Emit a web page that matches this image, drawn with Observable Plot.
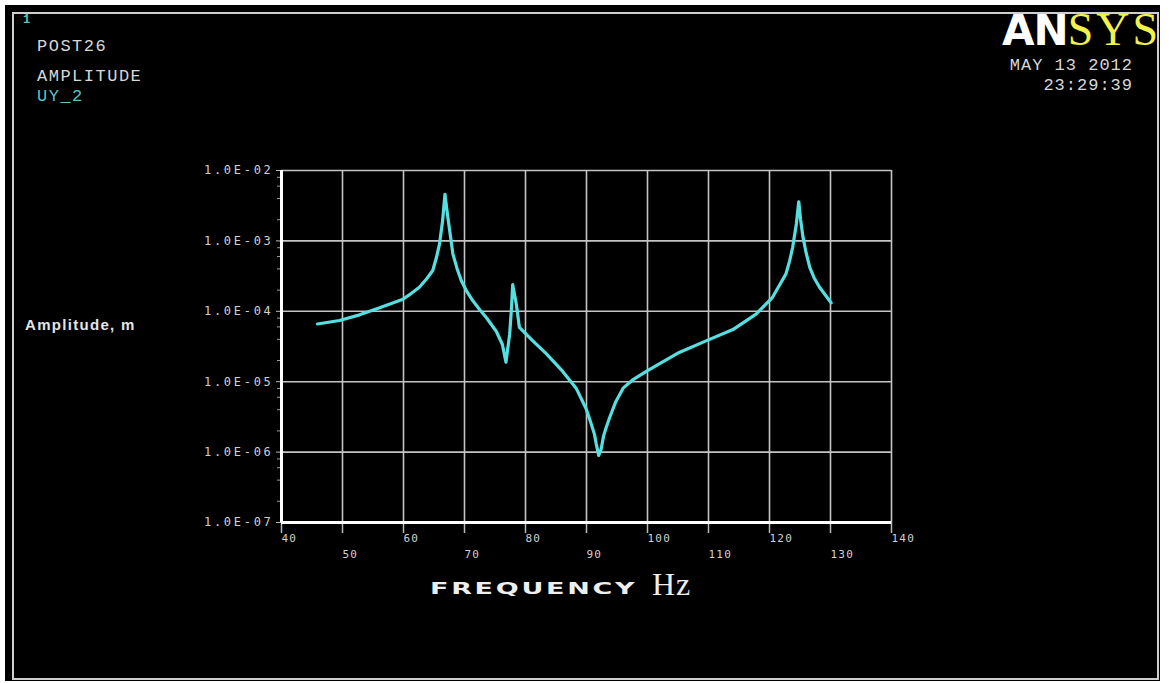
<!DOCTYPE html>
<html>
<head>
<meta charset="utf-8">
<script src="https://cdn.jsdelivr.net/npm/d3@7"></script>
<script src="https://cdn.jsdelivr.net/npm/@observablehq/plot@0.6"></script>
<style>
  html, body { margin: 0; padding: 0; background: #ffffff; overflow: hidden; }
  #chart { position: absolute; left: 0; top: 0; }
</style>
</head>
<body>
<div id="chart"></div>
<script>
// ---- Data (frequency in Hz, amplitude in m) ----
const freq = [45.9, 49.5, 52.8, 56.1, 59.9, 61.3, 62.6, 63.8, 64.8, 65.4, 65.9, 66.4, 66.8, 67.2, 67.5, 68.1, 68.8, 69.5, 70.4, 71.4, 72.5, 73.6, 75.2, 76.2, 76.8, 77.4, 77.7, 77.9, 78.5, 79.0, 81.2, 83.4, 86.1, 88.3, 89.9, 90.6, 91.3, 91.6, 92.0, 92.4, 92.8, 93.2, 93.8, 94.8, 96.0, 97.5, 99.8, 105.2, 109.6, 114.0, 117.8, 120.5, 121.7, 122.7, 123.3, 123.8, 124.4, 124.8, 125.1, 125.5, 126.0, 126.6, 127.3, 128.2, 130.1];
const amplitude = [6.6e-5, 7.4e-5, 8.9e-5, 1.12e-4, 1.48e-4, 1.8e-4, 2.2e-4, 2.9e-4, 3.8e-4, 5.8e-4, 9e-4, 1.9e-3, 4.6e-3, 2.4e-3, 1.55e-3, 6.5e-4, 4e-4, 2.7e-4, 1.9e-4, 1.4e-4, 1.05e-4, 8.1e-5, 5.2e-5, 3.4e-5, 1.9e-5, 4.7e-5, 1.1e-4, 2.4e-4, 1.26e-4, 5.9e-5, 3.8e-5, 2.5e-5, 1.4e-5, 8.1e-6, 4.2e-6, 2.8e-6, 1.8e-6, 1.3e-6, 9e-7, 1.1e-6, 1.7e-6, 2.2e-6, 3.1e-6, 5.2e-6, 8.1e-6, 1.05e-5, 1.4e-5, 2.6e-5, 3.8e-5, 5.5e-5, 9.1e-5, 1.58e-4, 2.4e-4, 3.4e-4, 5.2e-4, 8.1e-4, 1.74e-3, 3.6e-3, 2e-3, 1.12e-3, 6.8e-4, 4.2e-4, 3e-4, 2.2e-4, 1.32e-4];

const xTicks = [40, 50, 60, 70, 80, 90, 100, 110, 120, 130, 140];
const xLabelsRow1 = [40, 60, 80, 100, 120, 140];
const xLabelsRow2 = [50, 70, 90, 110, 130];
const yDecades = [1e-7, 1e-6, 1e-5, 1e-4, 1e-3, 1e-2];
const yLabels = ["1.0E-07", "1.0E-06", "1.0E-05", "1.0E-04", "1.0E-03", "1.0E-02"];
const yMinorMultipliers = [2, 4, 6, 8];

const headerLines = ["POST26", "AMPLITUDE"];
const seriesName = "UY_2";
const windowNumber = "1";
const dateText = "MAY 13 2012";
const timeText = "23:29:39";
const yTitle = "Amplitude, m";
const xTitleWord = "FREQUENCY";
const xTitleUnit = "Hz";

// ---- Build tables ----
const data = freq.map((f, i) => ({f, a: amplitude[i]}));
const yMinor = [];
for (const d of yDecades.slice(0, -1)) for (const m of yMinorMultipliers) yMinor.push(d * m);
const yLabelRows = yDecades.map((v, i) => ({v, t: yLabels[i]}));

const svg = Plot.plot({
  width: 1170,
  height: 683,
  marginLeft: 281,
  marginRight: 279,
  marginTop: 170,
  marginBottom: 161,
  style: {background: "transparent", color: "#dcdcdc"},
  x: {domain: [40, 140], axis: null},
  y: {type: "log", domain: [1e-7, 1e-2], axis: null},
  marks: [
    Plot.ruleX(xTicks.slice(1), {x: d => d, stroke: "#c4c4c4", strokeWidth: 1.6}),
    Plot.ruleY(yDecades.slice(1), {y: d => d, stroke: "#c4c4c4", strokeWidth: 1.6}),
    Plot.axisX(xTicks, {tickSize: 11, tickFormat: () => "", stroke: "#b8b8b8", strokeWidth: 1.5, label: null}),
    Plot.axisY(yMinor, {tickSize: 4, tickFormat: () => "", stroke: "#9a9a9a", label: null}),
    Plot.axisY(yDecades, {tickSize: 5, tickFormat: () => "", stroke: "#bbbbbb", label: null}),
    Plot.ruleX([40], {x: d => d, stroke: "#ffffff", strokeWidth: 3}),
    Plot.ruleY([1e-7], {y: d => d, stroke: "#ffffff", strokeWidth: 3}),
    Plot.line(data, {x: "f", y: "a", stroke: "#55dfe0", strokeWidth: 3.2, strokeLinejoin: "round"}),
    Plot.text(yLabelRows, {y: "v", text: "t", frameAnchor: "left", dx: -8, textAnchor: "end",
      fontFamily: "DejaVu Sans Mono", fontSize: 12, fill: "#d0d0d0"}),
    Plot.text(xLabelsRow1, {x: d => d, text: d => String(d), frameAnchor: "bottom", dy: 19, textAnchor: "start",
      fontFamily: "DejaVu Sans Mono", fontSize: 11, fill: "#d0d0d0"}),
    Plot.text(xLabelsRow2, {x: d => d, text: d => String(d), frameAnchor: "bottom", dy: 35, textAnchor: "start",
      fontFamily: "DejaVu Sans Mono", fontSize: 11, fill: "#d0d0d0"})
  ]
});

const s = d3.select(svg);
s.selectAll("text").each(function () {
  const t = this.textContent;
  if (yLabels.includes(t)) d3.select(this).style("letter-spacing", "2.7px");
  else if (/^\d+$/.test(t)) d3.select(this).style("letter-spacing", "1.2px");
});

// background panel and frame
s.insert("rect", ":first-child").attr("x", 13).attr("y", 13).attr("width", 1145).attr("height", 666)
  .attr("fill", "none").attr("stroke", "#cfcfcf").attr("stroke-width", 2);
s.insert("rect", ":first-child").attr("x", 5).attr("y", 5).attr("width", 1155).attr("height", 676).attr("fill", "#000000");

// annotations
const ann = s.append("g").attr("text-anchor", "start");
function label(x, y, t, opts) {
  const e = ann.append("text").attr("x", x).attr("y", y).text(t)
    .attr("text-anchor", opts.anchor || "start")
    .attr("font-family", opts.family || "Liberation Mono")
    .attr("font-size", opts.size || 17)
    .attr("fill", opts.fill || "#d8d8d8");
  if (opts.weight) e.attr("font-weight", opts.weight);
  if (opts.spacing) e.style("letter-spacing", opts.spacing);
  if (opts.transform) e.attr("transform", opts.transform);
  return e;
}
label(23, 23, windowNumber, {size: 12, weight: "bold", fill: "#5cc4c4"});
headerLines.forEach((t, i) => label(37, 51 + i * 30, t, {spacing: "1.5px"}));
label(37, 101, seriesName, {spacing: "1.5px", fill: "#5cc4c4"});

// logo
const logo = ann.append("text").attr("x", 1002).attr("y", 45).attr("text-anchor", "start");
logo.append("tspan").text("AN").attr("font-family", "DejaVu Sans").attr("font-weight", "bold")
  .attr("font-size", 42).style("letter-spacing", "-1px").attr("fill", "#ffffff");
logo.append("tspan").text("SYS").attr("font-family", "Liberation Serif").attr("font-size", 46)
  .style("letter-spacing", "3px").attr("fill", "#f2f24a");

label(1133, 70, dateText, {anchor: "end", spacing: "1px"});
label(1133, 90, timeText, {anchor: "end", spacing: "1px"});

label(25, 330, yTitle, {family: "Liberation Sans", weight: "bold", size: 15, spacing: "1.3px", fill: "#e4e4e4"});

label(0, 0, xTitleWord, {family: "DejaVu Sans", weight: "bold", size: 15, spacing: "1.5px", fill: "#eeeeee",
  transform: "translate(430,594) scale(1.8,1)"});
label(652, 595, xTitleUnit, {family: "Liberation Serif", size: 32, spacing: "1px", fill: "#eeeeee"});

document.getElementById("chart").appendChild(svg);
</script>
</body>
</html>
